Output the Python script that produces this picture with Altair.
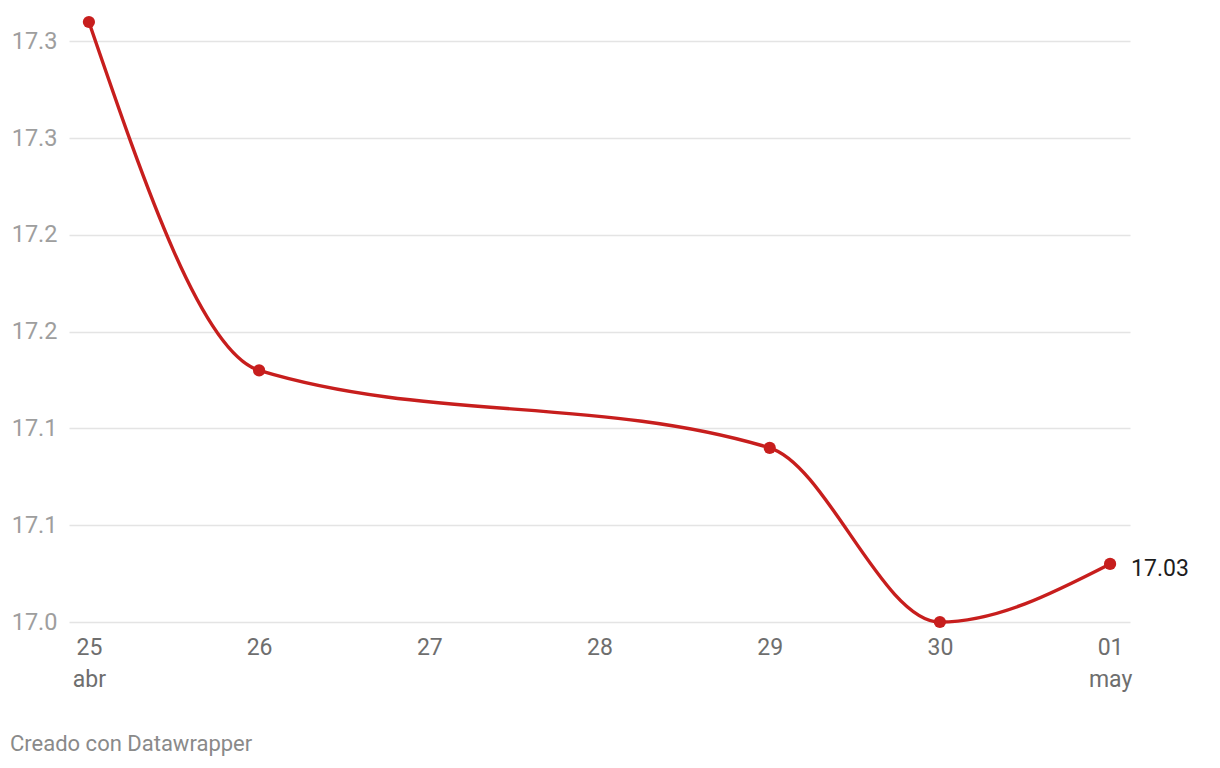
import altair as alt
import pandas as pd

days = ["25", "26", "27", "28", "29", "30", "01"]
point_days = ["25", "26", "29", "30", "01"]
values = [17.31, 17.13, 17.09, 17.00, 17.03]
y_ticks = [17.0, 17.05, 17.10, 17.15, 17.20, 17.25, 17.30]
y_tick_labels = ["17.0", "17.1", "17.1", "17.2", "17.2", "17.3", "17.3"]
last_label = "17.03"
footer = "Creado con Datawrapper"

RED = "#c71e1d"
FONT = "Roboto"

df = pd.DataFrame({"day": point_days, "value": values})
df_last = df.tail(1).assign(label=last_label)

label_arr = "[" + ",".join("'" + s + "'" for s in y_tick_labels) + "]"
y_label_expr = f"{label_arr}[round((datum.value - 17) / 0.05)]"
x_label_expr = ("datum.value == '25' ? ['25', 'abr'] : "
                "datum.value == '01' ? ['01', 'may'] : datum.value")

x_scale = alt.Scale(type="point", domain=days, padding=0.117)
x_enc = alt.X(
    "day:O",
    scale=x_scale,
    axis=alt.Axis(
        title=None, domain=False, ticks=False, grid=False,
        labelExpr=x_label_expr, labelAngle=0, labelFont=FONT,
        labelFontSize=23, labelColor="#6e6e6e", labelPadding=14,
        labelLineHeight=32, labelBaseline="top",
    ),
)
y_enc = alt.Y(
    "value:Q",
    scale=alt.Scale(domain=[17.0, 17.31], nice=False, zero=False),
    axis=alt.Axis(
        title=None, domain=False, ticks=False, values=y_ticks,
        labelExpr=y_label_expr, labelFont=FONT, labelFontSize=23.5,
        labelColor="#9e9e9e", labelPadding=12, gridColor="#e4e4e4",
        gridWidth=1.5, labelBaseline="middle",
    ),
)

base = alt.Chart(df).encode(x=x_enc, y=y_enc)
line = base.mark_line(color=RED, strokeWidth=3.4, interpolate="monotone", clip=False)
pts = base.mark_circle(color=RED, size=150, opacity=1, clip=False)
last = alt.Chart(df_last).mark_text(
    align="left", baseline="middle", dx=21, dy=5, font=FONT, fontSize=23, color="#1d1d1d"
).encode(x=alt.X("day:O", scale=x_scale), y="value:Q", text="label:N")
foot = alt.Chart(pd.DataFrame({"t": [footer]})).mark_text(
    align="left", baseline="middle", font=FONT, fontSize=22, color="#8a8a8a"
).encode(text="t:N", x=alt.value(-59), y=alt.value(722))

chart = (
    alt.layer(line, pts, last, foot)
    .properties(
        width=1061, height=600,
        autosize=alt.AutoSizeParams(type="none"),
        padding={"left": 61, "top": 14, "right": 80, "bottom": 140},
        view=alt.ViewBackground(stroke=None, strokeWidth=0, strokeOpacity=0),
    )
    .configure_view(strokeWidth=0, strokeOpacity=0)
    .configure(background="white")
)

chart.save("out.html", embed_options={"renderer": "svg", "actions": False})
